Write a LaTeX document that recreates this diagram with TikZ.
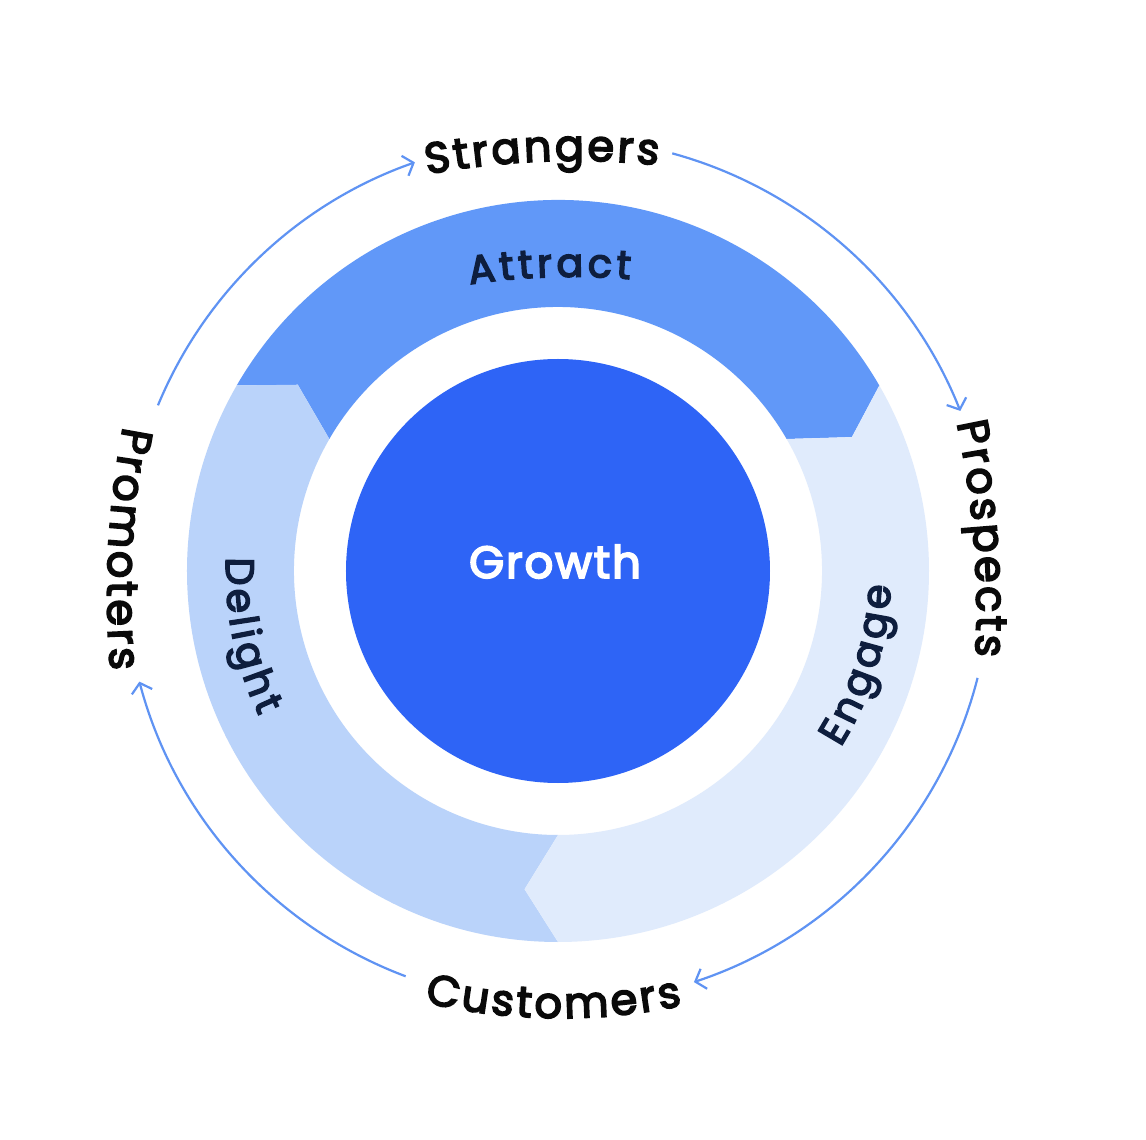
\documentclass[tikz,border=0pt]{standalone}
\usepackage{fontspec}
\setmainfont{Poppins}
\newfontfamily\lblfont{Poppins}[FakeBold=4]
\newfontfamily\ringfont{Poppins}[FakeBold=4]
\newfontfamily\growfont{Poppins}[FakeBold=4, LetterSpace=4]
\usetikzlibrary{arrows.meta,calc,decorations.text}
\definecolor{attractC}{HTML}{6198F8}
\definecolor{delightC}{HTML}{BAD3FA}
\definecolor{engageC}{HTML}{E0EBFC}
\definecolor{growthC}{HTML}{2E64F6}
\definecolor{arrowC}{HTML}{5F93F3}
\definecolor{navyC}{HTML}{0E1E3E}
\definecolor{inkC}{HTML}{0A0A0A}
\newcommand\outerlbl{\lblfont\fontsize{43}{50}\selectfont\kern3pt}
\newcommand\ringlbl{\ringfont\fontsize{39.5}{46}\selectfont\kern4.2pt}
% clockwise text (tops outward): theta, r-Rt, Rt, delta, colour, text
\newcommand\cwtext[6]{%
  \path[decorate,decoration={text along path,text align=center,text color=#5,text={#6}}]
    ($(#1:#2pt)+(#1+#4:#3pt)$) arc[start angle=#1+#4, end angle=#1-#4, radius=#3pt];}
% counter-clockwise text (tops inward)
\newcommand\ccwtext[6]{%
  \path[decorate,decoration={text along path,text align=center,text color=#5,text={#6}}]
    ($(#1:#2pt)+(#1-#4:#3pt)$) arc[start angle=#1-#4, end angle=#1+#4, radius=#3pt];}
\tikzset{
  arrowline/.style={draw=arrowC, line width=2.2pt, -{Straight Barb[length=9pt,width=21pt,line width=2.2pt]}},
}
\begin{document}
\begin{tikzpicture}[x=1pt,y=1pt]
\useasboundingbox (-558,-569) rectangle (588,571);
\fill[white] (-558,-569) rectangle (588,571);

% ring segments
\fill[attractC] (150:371pt) arc[start angle=150, end angle=30, radius=371pt]
  -- (24.5:323pt) -- (30:264pt) arc[start angle=30, end angle=150, radius=264pt]
  -- (144.4:320pt) -- cycle;
\fill[delightC] (150:371pt) -- (144.4:320pt) -- (150:264pt)
  arc[start angle=150, end angle=270, radius=264pt]
  -- (264:320pt) -- (270:371pt) arc[start angle=270, end angle=150, radius=371pt] -- cycle;
\fill[engageC] (30:371pt) -- (24.5:323pt) -- (30:264pt)
  arc[start angle=30, end angle=-90, radius=264pt]
  -- (-96:320pt) -- (-90:371pt) arc[start angle=-90, end angle=30, radius=371pt] -- cycle;

% centre
\node[circle, fill=growthC, minimum size=424pt, inner sep=0pt] (growth) at (0,0) {};
\node[anchor=base, text=white, font=\growfont\fontsize{45}{50}\selectfont] (growthtext) at (-3,-7) {Growth};

% outer connectors
\coordinate (a1s) at (157.5:433pt);
\coordinate (a2s) at (74.7:433pt);
\coordinate (a3s) at (-14.3:433pt);
\coordinate (a4s) at (-110.6:433pt);
\draw[arrowline] (a1s) arc[start angle=157.5, end angle=109.3, radius=433pt];
\draw[arrowline] (a2s) arc[start angle=74.7, end angle=21.7, radius=433pt];
\draw[arrowline] (a3s) arc[start angle=-14.3, end angle=-71.7, radius=433pt];
\draw[arrowline] (a4s) arc[start angle=-110.6, end angle=-165.2, radius=433pt];

% outer labels
\cwtext{92.4}{-390}{800}{25}{inkC}{|\outerlbl|Strangers}
\cwtext{4.6}{-483}{900}{20}{inkC}{|\outerlbl|Prospects}
\ccwtext{269.2}{-153}{600}{30}{inkC}{|\outerlbl|Customers}
\ccwtext{176.9}{-450}{900}{20}{inkC}{|\outerlbl|Promoters}

% ring labels
\cwtext{92}{-406}{700}{20}{navyC}{|\ringlbl|Attract}
\ccwtext{191.4}{0}{332}{40}{navyC}{|\ringlbl|Delight}
\ccwtext{-17.6}{0}{333}{40}{navyC}{|\ringlbl|Engage}
\end{tikzpicture}
\end{document}
